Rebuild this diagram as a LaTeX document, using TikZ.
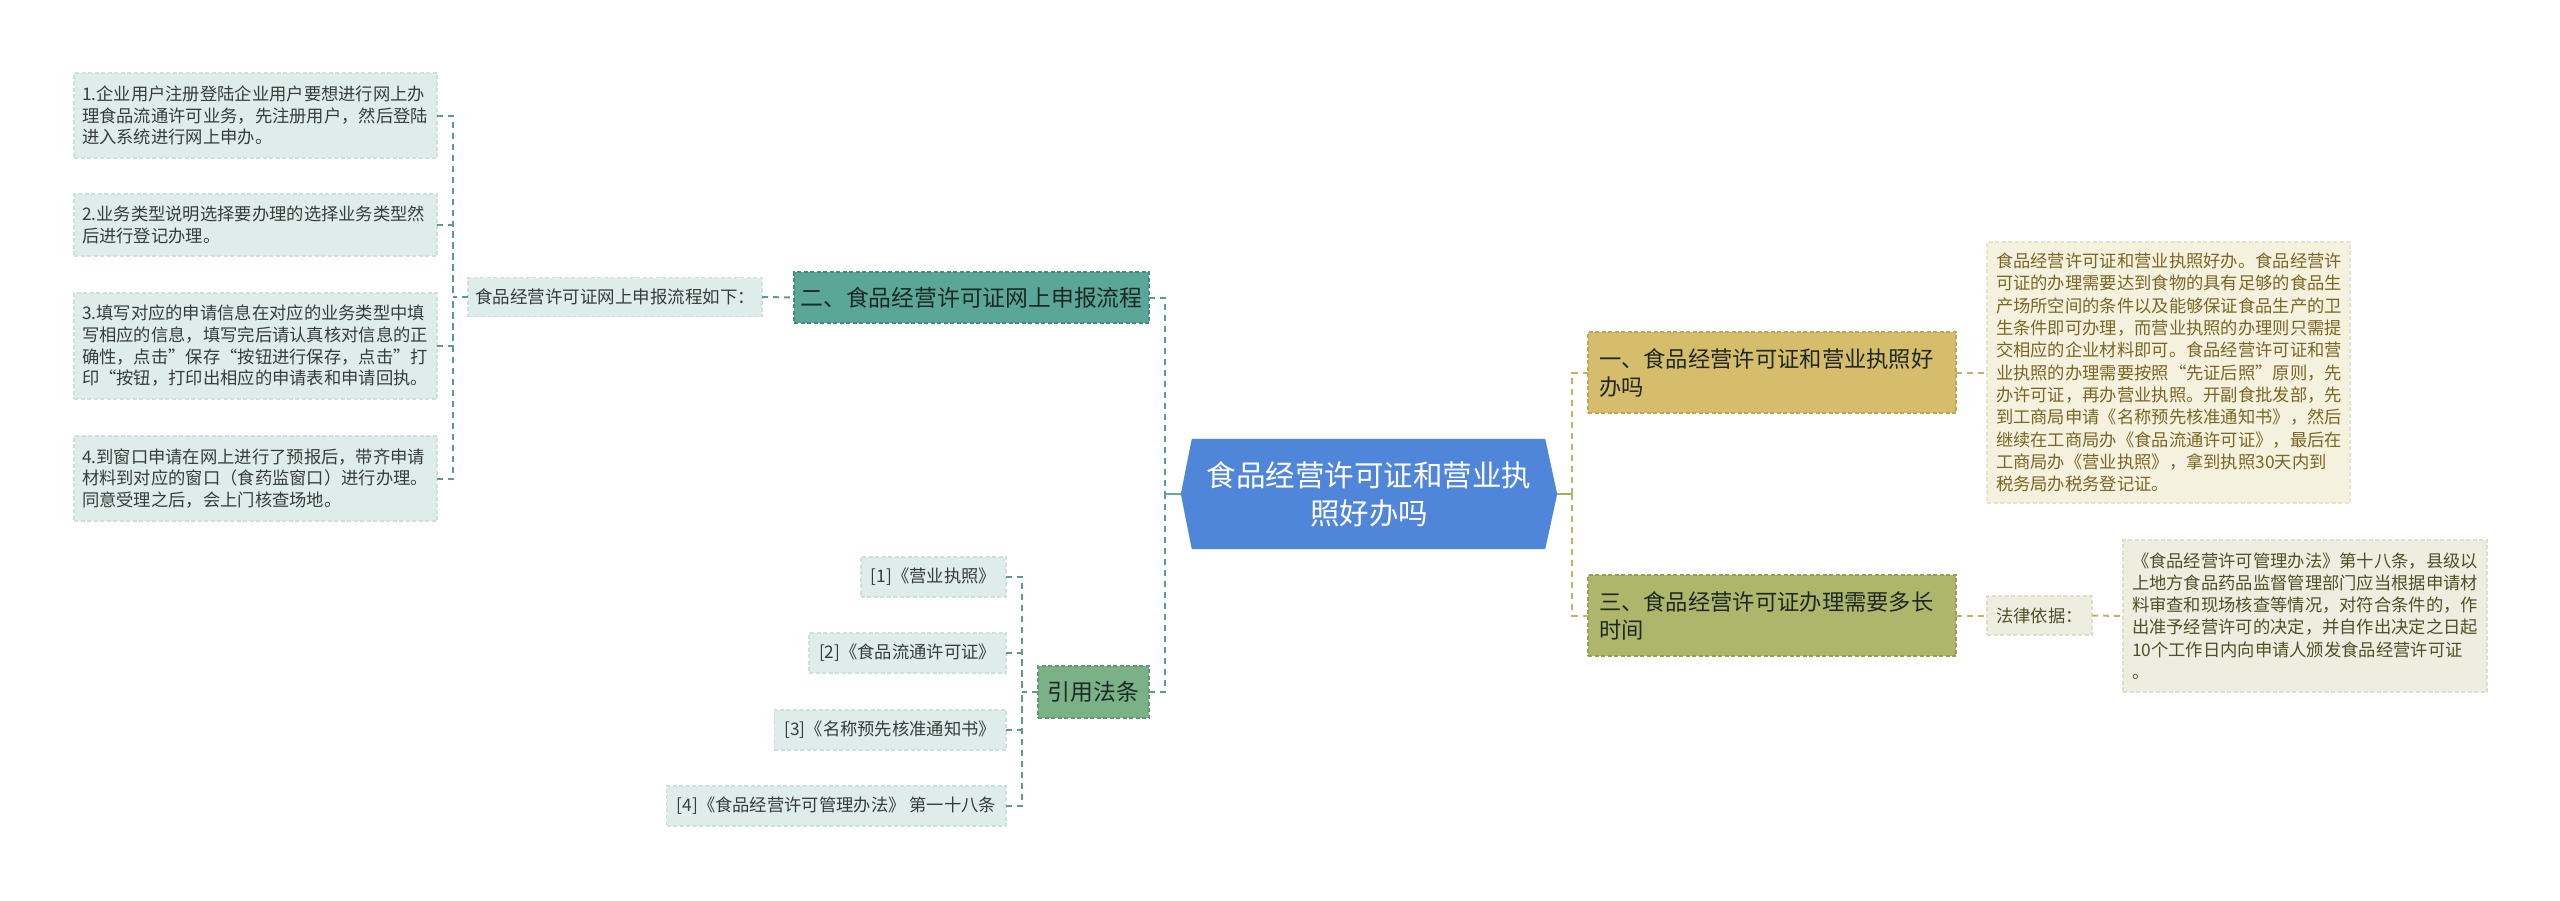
\documentclass[tikz,border=0pt]{standalone}
\usepackage{fontspec}
\setmainfont{Noto Sans CJK SC}
\usetikzlibrary{backgrounds}
\definecolor{cblue}{RGB}{80,134,218}
\definecolor{tealbox}{RGB}{90,166,151}
\definecolor{tealdraw}{RGB}{70,140,126}
\definecolor{greenbox}{RGB}{122,177,135}
\definecolor{greendraw}{RGB}{98,152,112}
\definecolor{leaffill}{RGB}{223,237,234}
\definecolor{leafdraw}{RGB}{206,224,220}
\definecolor{leaftext}{RGB}{55,60,58}
\definecolor{goldbox}{RGB}{213,189,107}
\definecolor{golddraw}{RGB}{190,166,88}
\definecolor{olivebox}{RGB}{174,182,107}
\definecolor{olivedraw}{RGB}{150,158,88}
\definecolor{creamfill}{RGB}{245,241,223}
\definecolor{creamdraw}{RGB}{232,226,200}
\definecolor{creamtext}{RGB}{122,102,36}
\definecolor{grayfill}{RGB}{238,238,224}
\definecolor{graydraw}{RGB}{222,222,204}
\definecolor{graytext}{RGB}{78,80,40}
\definecolor{lconncol}{RGB}{92,156,142}
\definecolor{lsolidcol}{RGB}{108,170,140}
\definecolor{rconncol}{RGB}{188,181,104}
\definecolor{rsolidcol}{RGB}{166,174,86}
\definecolor{darktext}{RGB}{30,40,36}
\begin{document}
\begin{tikzpicture}[x=1pt,y=-1pt,
  boxbase/.style={inner sep=0pt, outer sep=0pt, line width=1.3pt, dash pattern=on 4pt off 2.5pt},
  leaf/.style={boxbase, fill=leaffill, draw=leafdraw, text=leaftext,
    font=\fontsize{17.3}{21.7}\selectfont, align=left, text width=347pt, inner xsep=8pt, minimum width=363pt},
  refleaf/.style={boxbase, fill=leaffill, draw=leafdraw, text=leaftext,
    font=\fontsize{17.3}{21.7}\selectfont, inner xsep=10pt, minimum height=40pt, anchor=east},
  lvl1/.style={boxbase, text=darktext, font=\fontsize{22.8}{28}\selectfont},
  rlvl1/.style={boxbase, text=darktext, font=\fontsize{22.3}{28}\selectfont, align=left,
    text width=346pt, inner xsep=11pt, minimum width=368pt, minimum height=81pt},
  detail/.style={boxbase, font=\fontsize{17.3}{22.3}\selectfont, align=left},
  lconn/.style={draw=lconncol, line width=2pt, dash pattern=on 6pt off 5pt},
  lsolid/.style={draw=lsolidcol, line width=2.5pt},
  rconn/.style={draw=rconncol, line width=2pt, dash pattern=on 6pt off 5pt},
  rsolid/.style={draw=rsolidcol, line width=2.5pt}
]
\begin{scope}[on background layer]
\fill[white] (0,0) rectangle (2560,900);
\end{scope}
\useasboundingbox (0,0) rectangle (2560,900);

% central
\node[font=\fontsize{29.5}{38}\selectfont, text=white, align=center,
  minimum width=376pt, minimum height=110pt, inner sep=0pt] (c) at (1369,494)
  {食品经营许可证和营业执\\照好办吗};
\begin{scope}[on background layer]
\fill[cblue] (c.west) -- ([xshift=11pt]c.north west) -- ([xshift=-12pt]c.north east)
  -- (c.east) -- ([xshift=-12pt]c.south east) -- ([xshift=11pt]c.south west) -- cycle;
\end{scope}

% left branch: online process
\node[lvl1, fill=tealbox, draw=tealdraw, minimum width=355pt, minimum height=51pt] (t2) at (971.5,297.5)
  {二、食品经营许可证网上申报流程};
\node[boxbase, fill=leaffill, draw=leafdraw, text=leaftext, font=\fontsize{17.5}{21.7}\selectfont,
  minimum width=294pt, minimum height=39pt] (lab) at (615,297) {食品经营许可证网上申报流程如下：};
\node[leaf, minimum height=85pt] (b1) at (255.5,115.5)
  {1.企业用户注册登陆企业用户要想进行网上办\\理食品流通许可业务，先注册用户，然后登陆\\进入系统进行网上申办。};
\node[leaf, minimum height=62pt] (b2) at (255.5,225)
  {2.业务类型说明选择要办理的选择业务类型然\\后进行登记办理。};
\node[leaf, minimum height=106pt] (b3) at (255.5,346)
  {3.填写对应的申请信息在对应的业务类型中填\\写相应的信息，填写完后请认真核对信息的正\\确性，点击”保存“按钮进行保存，点击”打\\印“按钮，打印出相应的申请表和申请回执。};
\node[leaf, minimum height=85pt] (b4) at (255.5,478.5)
  {4.到窗口申请在网上进行了预报后，带齐申请\\材料到对应的窗口（食药监窗口）进行办理。\\同意受理之后，会上门核查场地。};

% left branch: references
\node[lvl1, fill=greenbox, draw=greendraw, minimum width=111pt, minimum height=52pt] (yf) at (1093.5,692) {引用法条};
\node[refleaf] (r1) at (1006,577) {[1]《营业执照》};
\node[refleaf] (r2) at (1006,653) {[2]《食品流通许可证》};
\node[refleaf] (r3) at (1006,730) {[3]《名称预先核准通知书》};
\node[refleaf] (r4) at (1006,806) {[4]《食品经营许可管理办法》 第一十八条};

% right branch
\node[rlvl1, fill=goldbox, draw=golddraw] (o1) at (1772,372.5) {一、食品经营许可证和营业执照好\\办吗};
\node[rlvl1, fill=olivebox, draw=olivedraw] (o3) at (1772,615.5) {三、食品经营许可证办理需要多长\\时间};
\node[detail, fill=creamfill, draw=creamdraw, text=creamtext, text width=345pt, inner xsep=9pt,
  minimum width=363pt, minimum height=261pt] (d1) at (2168.5,372.5)
  {食品经营许可证和营业执照好办。食品经营许\\可证的办理需要达到食物的具有足够的食品生\\产场所空间的条件以及能够保证食品生产的卫\\生条件即可办理，而营业执照的办理则只需提\\交相应的企业材料即可。食品经营许可证和营\\业执照的办理需要按照“先证后照”原则，先\\办许可证，再办营业执照。开副食批发部，先\\到工商局申请《名称预先核准通知书》，然后\\继续在工商局办《食品流通许可证》，最后在\\工商局办《营业执照》，拿到执照30天内到\\税务局办税务登记证。};
\node[boxbase, fill=grayfill, draw=graydraw, text=graytext, font=\fontsize{17.3}{21.7}\selectfont,
  minimum width=105pt, minimum height=39pt] (fl) at (2039.5,615.5) {法律依据：};
\node[detail, fill=grayfill, draw=graydraw, text=graytext, text width=346pt, inner xsep=9pt,
  minimum width=364pt, minimum height=152pt] (d3) at (2305,616)
  {《食品经营许可管理办法》第十八条，县级以\\上地方食品药品监督管理部门应当根据申请材\\料审查和现场核查等情况，对符合条件的，作\\出准予经营许可的决定，并自作出决定之日起\\10个工作日内向申请人颁发食品经营许可证\\。};

% connectors left
\coordinate (j1) at (453,297);
\coordinate (j2) at (1165,494);
\coordinate (j3) at (1022,692);
\coordinate (j4) at (1572,494);
\draw[lconn] (b1.east) -| (j1);
\draw[lconn] (b2.east) -| (j1);
\draw[lconn] (b3.east) -| (j1);
\draw[lconn] (b4.east) -| (j1);
\draw[lconn] (lab.west) -- (j1);
\draw[lconn] (lab.east) -- (t2.west);
\draw[lconn] (t2.east) -| (j2);
\draw[lconn] (yf.east) -| (j2);
\draw[lsolid] (j2) -- (c.west);
\draw[lconn] (r1.east) -| (j3);
\draw[lconn] (r2.east) -| (j3);
\draw[lconn] (r3.east) -| (j3);
\draw[lconn] (r4.east) -| (j3);
\draw[lconn] (yf.west) -- (j3);
% connectors right
\draw[rsolid] (c.east) -- (j4);
\draw[rconn] (j4) |- (o1.west);
\draw[rconn] (j4) |- (o3.west);
\draw[rconn] (o1.east) -- (d1.west);
\draw[rconn] (o3.east) -- (fl.west);
\draw[rconn] (fl.east) -- (d3.west);
\end{tikzpicture}
\end{document}
